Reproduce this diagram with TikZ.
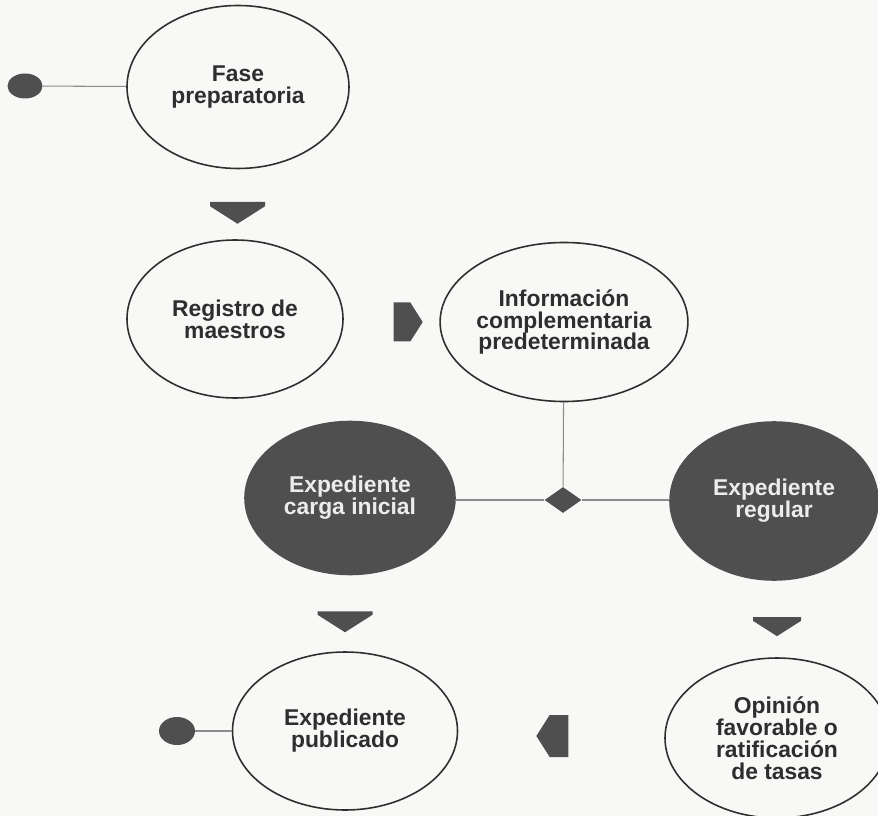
\documentclass[tikz,border=0pt]{standalone}
\usepackage{fontspec}
\setmainfont{Liberation Sans}
\usepackage{tikz}
\usetikzlibrary{arrows.meta,positioning,shapes.geometric,shapes.arrows}
\definecolor{procInk}{HTML}{2E2E2E}
\definecolor{procDark}{HTML}{4F4F4F}
\definecolor{procLine}{HTML}{8C8C8C}
\definecolor{procPaper}{HTML}{F8F8F6}
\definecolor{procLight}{HTML}{ECECEC}

\begin{document}
\begin{tikzpicture}[
  font=\bfseries\fontsize{13}{12.5}\selectfont,
  etapa/.style={ellipse,draw=procInk,line width=0.9pt,text=procInk,align=center,inner sep=0pt,minimum width=4.4cm,minimum height=3.2cm},
  oscura/.style={etapa,fill=procDark,draw=procDark,text=procLight},
  punto/.style={ellipse,fill=procDark,inner sep=0pt,minimum width=0.7cm,minimum height=0.5cm},
  rombo/.style={diamond,fill=procDark,inner sep=0pt,minimum width=0.74cm,minimum height=0.52cm},
  flecha/.style={single arrow,fill=procDark,inner sep=0pt,single arrow head extend=0pt,single arrow tip angle=115,minimum height=0.44cm,minimum width=1.1cm},
  linea/.style={procLine,line width=0.6pt}
]
\useasboundingbox (0,0) rectangle (17.56,-16.32);
\fill[procPaper] (0,0) rectangle (17.56,-16.32);
\clip (0,0) rectangle (17.56,-16.32);

\node[punto] (ini) at (0.50,-1.72) {};
\node[etapa,minimum width=4.44cm,minimum height=3.26cm] (fase) at (4.76,-1.74) {Fase\\preparatoria};
\node[flecha,rotate=270] (f1) at (4.75,-4.08) {};
\node[etapa,minimum width=4.32cm,minimum height=3.16cm] (reg) at (4.70,-6.38) {Registro de\\maestros};
\node[flecha,minimum height=0.58cm,minimum width=0.78cm] (f2) at (8.04,-6.44) {};
\node[etapa,minimum width=4.36cm,minimum height=3.18cm] (info) at (11.28,-6.44) {Información\\complementaria\\predeterminada};

\node[oscura,minimum width=4.2cm,minimum height=3.06cm] (carga) at (7.0,-9.96) {Expediente\\carga inicial};
\node[oscura,minimum width=4.16cm,minimum height=3.16cm] (regular) at (15.48,-10.02) {Expediente\\regular};
\node[rombo] (dec) at (11.26,-10.0) {};

\node[flecha,rotate=270,minimum height=0.42cm] (f3) at (6.9,-12.26) {};
\node[flecha,rotate=270,minimum height=0.38cm,minimum width=0.96cm] (f4) at (15.54,-12.38) {};
\node[etapa,minimum width=4.5cm,minimum height=3.16cm] (pub) at (6.9,-14.62) {Expediente\\publicado};
\node[punto,minimum width=0.72cm,minimum height=0.56cm] (fin) at (3.54,-14.62) {};
\node[flecha,rotate=180,minimum height=0.64cm,minimum width=0.84cm] (f5) at (11.18,-14.72) {};
\node[etapa,minimum width=4.48cm,minimum height=3.2cm] (opi) at (15.54,-14.76) {Opinión\\favorable o\\ratificación\\de tasas};

% conectores
\draw[linea] (ini) -- (fase);
\draw[linea] (info) -- (dec);
\draw[linea] (dec.west) -- (dec.west -| carga.east);
\draw[linea] (dec.east) -- (dec.east -| regular.west);
\draw[linea] (fin) -- (pub);
\end{tikzpicture}
\end{document}
